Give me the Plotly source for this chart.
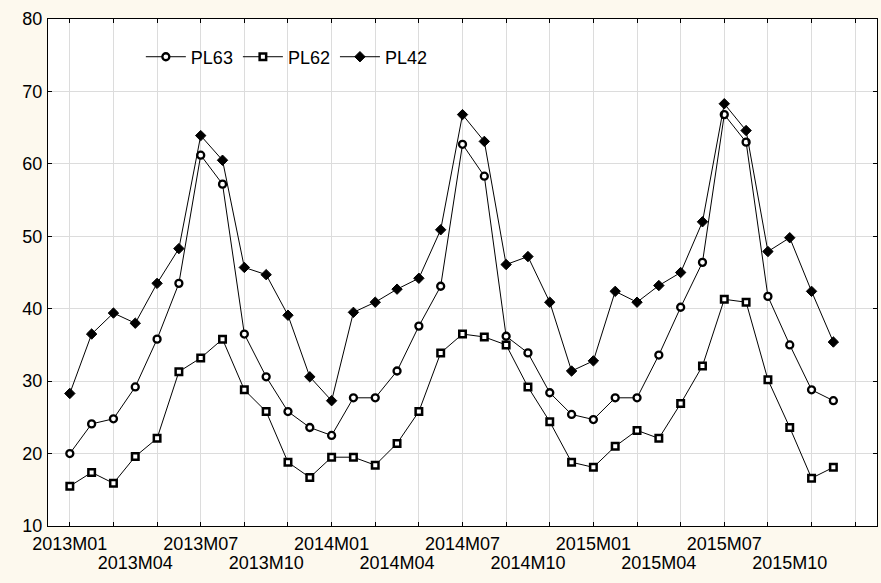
import plotly.graph_objects as go

months = [f"{y}M{m:02d}" for y in (2013, 2014, 2015) for m in range(1, 13)]

pl63 = [20.0, 24.1, 24.8, 29.2, 35.8, 43.5, 61.2, 57.2, 36.5, 30.6, 25.8, 23.6,
        22.5, 27.7, 27.7, 31.4, 37.6, 43.1, 62.7, 58.3, 36.2, 33.9, 28.4, 25.4,
        24.7, 27.7, 27.7, 33.6, 40.2, 46.4, 66.8, 63.0, 41.7, 35.0, 28.8, 27.3]
pl62 = [15.5, 17.4, 15.9, 19.6, 22.1, 31.3, 33.2, 35.8, 28.8, 25.8, 18.8, 16.7,
        19.5, 19.5, 18.4, 21.4, 25.8, 33.9, 36.5, 36.1, 35.0, 29.2, 24.4, 18.8,
        18.1, 21.0, 23.2, 22.1, 26.9, 32.1, 41.3, 40.9, 30.2, 23.6, 16.6, 18.1]
pl42 = [28.3, 36.5, 39.4, 38.0, 43.5, 48.3, 63.9, 60.5, 45.7, 44.7, 39.1, 30.6,
        27.3, 39.5, 40.9, 42.7, 44.2, 50.9, 66.8, 63.1, 46.1, 47.2, 40.9, 31.4,
        32.8, 42.4, 40.9, 43.2, 45.0, 52.0, 68.3, 64.6, 47.9, 49.8, 42.4, 35.4]

x = list(range(len(months)))
FONT = "Liberation Sans, Arial, sans-serif"
GRID = "#dcdcdc"
BG = "#fdf9ee"

fig = go.Figure()
fig.add_trace(go.Scatter(x=x, y=pl63, name="PL63", mode="lines+markers",
                         line=dict(color="black", width=1),
                         marker=dict(symbol="circle", size=7, color="white",
                                     line=dict(color="black", width=2.3))))
fig.add_trace(go.Scatter(x=x, y=pl62, name="PL62", mode="lines+markers",
                         line=dict(color="black", width=1),
                         marker=dict(symbol="square", size=6.5, color="white",
                                     line=dict(color="black", width=2.5))))
fig.add_trace(go.Scatter(x=x, y=pl42, name="PL42", mode="lines+markers",
                         line=dict(color="black", width=1),
                         marker=dict(symbol="diamond", size=8, color="black",
                                     line=dict(color="black", width=1))))
# invisible helpers so the label axes are drawn
for ax in ("x2", "x3"):
    fig.add_trace(go.Scatter(x=[None], y=[None], xaxis=ax, yaxis="y",
                             showlegend=False, hoverinfo="skip"))

row1 = list(range(0, 36, 6))
row2 = list(range(3, 36, 6))
fig.update_layout(
    width=881, height=583,
    margin=dict(l=48, r=4, t=19, b=57),
    paper_bgcolor=BG, plot_bgcolor="white",
    font=dict(family=FONT, size=18, color="black"),
    showlegend=True,
    legend=dict(orientation="h", x=0.112, y=0.925, xanchor="left", yanchor="middle",
                bgcolor="rgba(0,0,0,0)", font=dict(size=18), itemwidth=40),
    xaxis=dict(range=[-1, 37], tickmode="array", tickvals=list(range(0, 37, 2)),
               showticklabels=False, ticks="inside", ticklen=4, tickcolor="black",
               showgrid=True, gridcolor=GRID, gridwidth=1, zeroline=False,
               showline=True, linecolor="black", linewidth=1, mirror="ticks",
               automargin=False),
    xaxis2=dict(overlaying="x", matches="x", anchor="y", side="bottom",
                tickmode="array", tickvals=row1, ticktext=[months[i] for i in row1],
                ticks="", showgrid=False, zeroline=False, showline=False,
                ticklabelstandoff=5, automargin=False),
    xaxis3=dict(overlaying="x", matches="x", anchor="y", side="bottom",
                tickmode="array", tickvals=row2, ticktext=[months[i] for i in row2],
                ticks="", showgrid=False, zeroline=False, showline=False,
                ticklabelstandoff=24, automargin=False),
    yaxis=dict(range=[10, 80], tickmode="array", tickvals=list(range(10, 81, 10)),
               ticks="inside", ticklen=4, tickcolor="black",
               showgrid=True, gridcolor=GRID, gridwidth=1, zeroline=False,
               showline=True, linecolor="black", linewidth=1, mirror="ticks",
               ticklabelstandoff=1, automargin=False),
)
fig.write_html("out.html", config={"displayModeBar": False},
               post_script="document.body.style.margin='0';"
                           "document.body.style.background='%s';" % BG)
